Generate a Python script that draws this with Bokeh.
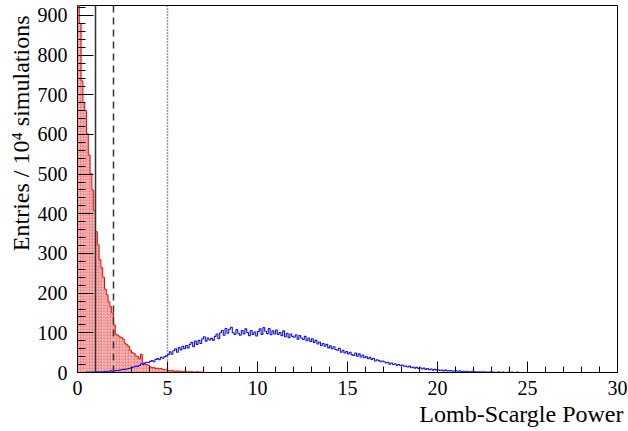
import numpy as np
from bokeh.plotting import figure
from bokeh.models import Range1d, FixedTicker, Span, Title
from bokeh.embed import file_html
from bokeh.resources import INLINE

# ---- data (bin width 0.1, starting at 0) ----
bin_width = 0.1
red_counts = [
    940, 880, 735, 680, 660, 602, 548, 501, 460, 408,
    355, 322, 284, 264, 240, 210, 196, 178, 166, 150,
    120, 96, 94, 90, 88, 84, 74, 70, 66, 56,
    50, 48, 42, 40, 34, 46, 24, 22, 20, 18,
    14, 12, 13, 10, 11, 9, 10, 8, 7, 8,
    5, 4, 5, 4, 3, 4, 3, 3, 2, 3,
    2, 2, 1, 2, 1, 1, 2, 1, 1, 1,
]
blue_counts = [
    0, 0, 0, 0, 0, 1, 0, 1, 1, 1,
    1, 2, 1, 2, 2, 3, 2, 3, 4, 3,
    4, 5, 5, 6, 7, 8, 8, 9, 10, 11,
    13, 14, 16, 15, 18, 22, 20, 24, 26, 25,
    28, 30, 27, 33, 35, 32, 38, 36, 40, 42,
    45, 52, 46, 55, 60, 51, 63, 57, 66, 60,
    68, 62, 71, 76, 65, 79, 71, 81, 73, 85,
    90, 79, 87, 82, 86, 81, 91, 97, 85, 100,
    106, 94, 111, 99, 109, 114, 100, 96, 108, 99,
    94, 106, 97, 110, 101, 93, 106, 96, 102, 92,
    103, 110, 96, 113, 104, 98, 111, 95, 105, 97,
    107, 96, 101, 93, 105, 90, 99, 88, 97, 91,
    89, 95, 84, 93, 87, 83, 91, 80, 87, 78,
    85, 76, 81, 72, 77, 68, 73, 66, 71, 62,
    67, 60, 65, 58, 56, 61, 51, 56, 49, 53,
    47, 51, 45, 43, 49, 41, 47, 39, 44, 37,
    40, 35, 38, 33, 36, 29, 32, 30, 27, 29,
    27, 24, 26, 21, 24, 20, 22, 18, 20, 17,
    19, 16, 16, 14, 16, 12, 14, 11, 13, 10,
    12, 9, 11, 8, 10, 7, 9, 6, 8, 6,
    7, 5, 6, 4, 6, 4, 4, 5, 3, 4,
    4, 3, 4, 2, 3, 2, 3, 2, 2, 3,
    2, 2, 1, 2, 1, 2, 1, 1, 1, 1,
    1, 1, 0, 1, 1, 0, 1, 0, 0, 1,
    0, 1, 0, 0, 1, 0, 0, 0, 0, 0,
]
x_ticks = [0, 5, 10, 15, 20, 25, 30]
y_ticks = [0, 100, 200, 300, 400, 500, 600, 700, 800, 900]
cut_lines = [1, 2, 5]
x_title = "Lomb-Scargle Power"
y_title = "Entries / 10\u2074 simulations"

FONT = "Liberation Serif"

p = figure(width=628, height=428, x_range=Range1d(0, 30), y_range=Range1d(0, 925),
           output_backend="svg", toolbar_location=None,
           min_border_left=77, min_border_right=11, min_border_top=5, min_border_bottom=55)
p.grid.visible = False
p.outline_line_color = "black"
p.outline_line_width = 1
p.background_fill_color = "white"
p.border_fill_color = "white"

def edges_for(counts):
    n = len(counts)
    e = np.arange(n + 1) * bin_width
    return e[:-1], e[1:]

# red histogram (filled, hatched)
rl, rr = edges_for(red_counts)
p.quad(left=rl, right=rr, bottom=0, top=red_counts, fill_color="#fab8b8",
       line_color=None, hatch_pattern="criss_cross", hatch_color="#f07070",
       hatch_alpha=0.45, hatch_scale=3)
rx = list(rl) + [rr[-1]]
ry = list(red_counts) + [red_counts[-1]]
p.step(x=rx, y=ry, mode="after", line_color="#ff0000", line_width=1)
p.segment(x0=[0], y0=[0], x1=[0], y1=[red_counts[0]], line_color="#ff0000", line_width=1)

# blue histogram (outline)
bl, br = edges_for(blue_counts)
bx = list(bl) + [br[-1], 30]
by = list(blue_counts) + [0, 0]
p.step(x=bx, y=by, mode="after", line_color="#1010ee", line_width=1.1)

# cut lines
styles = ["solid", "7 5", "1 2"]
for loc, dash in zip(cut_lines, styles):
    p.add_layout(Span(location=loc, dimension="height", line_color="#333333",
                      line_width=1.5, line_dash=dash))

# axes
p.xaxis.ticker = FixedTicker(ticks=x_ticks, minor_ticks=list(range(0, 31)))
p.yaxis.ticker = FixedTicker(ticks=y_ticks, minor_ticks=list(range(0, 925, 20)))
for ax in (p.xaxis[0], p.yaxis[0]):
    ax.major_label_text_font = FONT
    ax.major_label_text_font_size = "20px"
    ax.major_label_text_color = "black"
    ax.axis_line_color = "black"
    ax.major_tick_line_color = "black"
    ax.minor_tick_line_color = "black"
    ax.major_tick_out = 0
    ax.minor_tick_out = 0
p.yaxis.major_tick_in = 16
p.yaxis.minor_tick_in = 8
p.xaxis.major_tick_in = 11
p.xaxis.minor_tick_in = 6
p.yaxis.major_label_standoff = 10
p.xaxis.major_label_standoff = 8

# titles
p.add_layout(Title(text=x_title, align="right", text_font=FONT, text_font_size="24px",
                   text_font_style="normal", text_color="black", offset=-6,
                   standoff=3), "below")
p.add_layout(Title(text=y_title, align="right", text_font=FONT, text_font_size="24px",
                   text_font_style="normal", text_color="black", offset=10,
                   standoff=2), "left")

open("out.html", "w").write(file_html(p, INLINE))
